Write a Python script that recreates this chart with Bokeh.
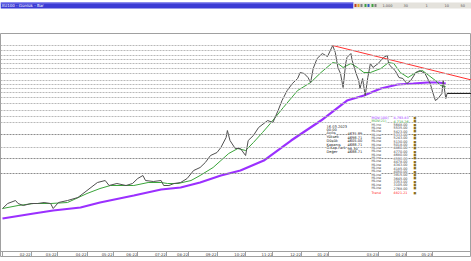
from bokeh.plotting import figure
from bokeh.models import Range1d, FixedTicker, LinearAxis, Label, BoxAnnotation, Span
from bokeh.layouts import column
from bokeh.embed import file_html
from bokeh.resources import INLINE

# ---------------- data ----------------
price_x = [0, 4, 10, 12, 16, 22, 27, 32, 37, 39, 43, 50, 58, 65, 73, 79, 82, 88, 95, 100,
           104, 108, 110, 116, 122, 124, 128, 132, 137, 142, 147, 152, 156, 160, 165, 168,
           172, 173, 175, 179, 183, 187, 189, 193, 197, 204, 208, 212, 215, 219, 223, 227,
           229, 232, 235, 237, 239, 242, 246, 250, 254, 256, 258, 260, 262, 264, 265, 268,
           269, 272, 274, 275, 277, 279, 281, 283, 285, 289, 293, 296, 297, 298, 302, 305,
           308, 311, 314, 318, 321, 325, 329, 331, 333, 335, 338, 339, 341, 342]
price_y = [1980, 2093, 2160, 2093, 2048, 2093, 2093, 2115, 2093, 1980, 2115, 2160, 2228, 2385,
           2565, 2610, 2498, 2543, 2498, 2543, 2655, 2723, 2610, 2588, 2610, 2498, 2498, 2543,
           2565, 2655, 2835, 2903, 3015, 3173, 3240, 3353, 3578, 3735, 3510, 3330, 3330, 3173,
           3510, 3623, 3803, 3960, 3915, 4185, 4410, 4635, 4793, 4905, 5040, 5018, 4928, 4815,
           5130, 5355, 5468, 5400, 5648, 5490, 5153, 5018, 4703, 5243, 5378, 5468, 5310, 5018,
           4860, 4680, 4905, 4523, 4928, 5243, 5153, 5243, 5378, 5423, 5243, 5198, 5085, 4928,
           4905, 4793, 4860, 5040, 5085, 5018, 4793, 4590, 4410, 4455, 4568, 4860, 4455, 4568]

ma21_x = [0, 12, 24, 37, 50, 65, 75, 83, 101, 112, 122, 127, 135, 145, 152, 162, 168, 174,
          181, 187, 193, 200, 206, 216, 227, 237, 245, 254, 258, 262, 268, 273, 278, 283,
          291, 297, 301, 306, 312, 318, 323, 328, 333, 337, 341]
ma21_y = [1980, 2048, 2093, 2093, 2115, 2318, 2430, 2498, 2498, 2565, 2565, 2543, 2543, 2610,
          2723, 2903, 3060, 3218, 3330, 3285, 3465, 3690, 3893, 4253, 4635, 4815, 5040, 5265,
          5243, 5153, 5243, 5153, 5040, 5040, 5130, 5265, 5243, 5040, 4928, 5040, 5085, 4973,
          4860, 4748, 4718]

ma100_x = [0, 24, 39, 60, 75, 101, 122, 137, 152, 168, 183, 201, 222, 245, 255, 265, 278,
           291, 304, 316, 327, 335, 341]
ma100_y = [1755, 1868, 1935, 2003, 2115, 2273, 2408, 2453, 2565, 2723, 2835, 3060, 3510, 3960,
           4185, 4410, 4523, 4680, 4770, 4793, 4815, 4815, 4793]

trend_x = [254, 295]
trend_y = [5648, 5350]

hline_values = [5648.00, 5535.00, 5423.00, 5333.00, 5243.00, 5130.00, 5018.00, 4860.00,
                4770.00, 4680.00, 4590.00, 4478.00, 4343.00, 4185.00, 4050.00, 3915.00,
                3645.00, 3353.00, 3105.00, 2768.00]

month_starts = [0, 22, 42, 65, 85, 104, 126, 143, 165, 187, 208, 230, 251, 289, 311, 331]
month_labels = ["01-22", "02-22", "03-22", "04-22", "05-22", "06-22", "07-22", "08-22",
                "09-22", "10-22", "11-22", "12-22", "01-23", "03-23", "04-23", "05-23"]

info_labels = ["16.03.2023", "00:00", "Açılış", "Yüksek", "Düşük", "Kapanış", "O.Kap.Fark", "Değer"]
info_values = ["", "", "4635.89", "4698.71", "4605.00", "4688.71", "98.30", "4688.71"]

ma100_value = "4,793.83"
ma21_value = "4,718.26"
trend_value = "4821.21"

# ---------------- layout helpers ----------------
W = 471
TOP_H = 33
MAIN_H = 224
BOT_H = 4
X0, X1 = -1.54, 360.77
Y_TOP, Y_BOT = 5918.0, 878.0


def px_x(px):
    return X0 + (X1 - X0) * px / W


def py_y(py):
    return Y_TOP - (Y_TOP - Y_BOT) * (py - TOP_H) / MAIN_H


FONT = "DejaVu Sans"

# ---------------- top bar ----------------
top = figure(width=W, height=TOP_H, x_range=Range1d(0, W), y_range=Range1d(TOP_H, 0),
             output_backend="svg", toolbar_location=None, min_border=0,
             x_axis_location=None, y_axis_location=None)
top.outline_line_color = None
top.grid.visible = False
top.add_layout(BoxAnnotation(left=0, right=353, top=2, bottom=8, fill_color="#3b3bd4",
                             fill_alpha=1, line_color=None))
top.add_layout(BoxAnnotation(left=0, right=353, top=2, bottom=3, fill_color="#7f7ff0",
                             fill_alpha=1, line_color=None))
top.add_layout(BoxAnnotation(left=353, right=W, top=2, bottom=8, fill_color="#e4e2dc",
                             fill_alpha=1, line_color=None))
top.add_layout(Label(x=1, y=5, text="XU100 - Günlük - Bar", text_font=FONT,
                     text_font_size="4px", text_color="white", text_baseline="middle"))
for xi, col in zip([354, 357, 360, 364, 367, 371, 374], ["#c04020", "#e0a020", "#808080",
                                                        "#40a040", "#3060c0", "#40a040", "#808080"]):
    top.add_layout(BoxAnnotation(left=xi, right=xi + 2, top=3.5, bottom=6.5, fill_color=col,
                                 fill_alpha=1, line_color=None))
for xi, t in zip([382, 403, 425, 444, 460], ["1.000", "30", "1", "10", "50"]):
    top.add_layout(Label(x=xi, y=5, text=t, text_font=FONT, text_font_size="3.5px",
                         text_color="#555555", text_baseline="middle"))

# ---------------- main chart ----------------
p = figure(width=W, height=MAIN_H, x_range=Range1d(X0, X1), y_range=Range1d(Y_BOT, Y_TOP),
           output_backend="svg", toolbar_location=None, min_border=0,
           x_axis_location=None, y_axis_location=None)
p.outline_line_color = "#a0a0a0"
p.background_fill_color = "white"
p.border_fill_color = "white"
p.grid.visible = False

dark = {2768.00, 3105.00, 3645.00}
for v in hline_values:
    p.add_layout(Span(location=v, dimension="width",
                      line_color="#8c8c8c" if v in dark else "#b8b8b8",
                      line_width=1, line_dash="2 1"))

p.line(ma100_x, ma100_y, line_color="#9b30ff", line_width=2.2)
p.line(ma21_x, ma21_y, line_color="#3aa53a", line_width=1)
p.line(price_x, price_y, line_color="#505050", line_width=1)

slope = (trend_y[1] - trend_y[0]) / (trend_x[1] - trend_x[0])
p.line([trend_x[0], X1], [trend_y[0], trend_y[0] + slope * (X1 - trend_x[0])],
       line_color="#ff3030", line_width=1)
p.line([price_x[-1], X1], [price_y[-1], price_y[-1]], line_color="#202020", line_width=1)

# x axis band: labels axis at band top, separator axis at band bottom
label_pos = [m - 4.5 for m in month_starts[1:]]
ax = LinearAxis(ticker=FixedTicker(ticks=label_pos, minor_ticks=[]),
                fixed_location=py_y(251))
ax.major_label_overrides = {lp: lab for lp, lab in zip(label_pos, month_labels[1:])}
ax.major_tick_out = 0
ax.major_tick_in = 0
ax.minor_tick_out = 0
ax.minor_tick_in = 0
ax.axis_line_color = "#a0a0a0"
ax.major_label_text_font = FONT
ax.major_label_text_font_size = "3.8px"
ax.major_label_text_color = "#404040"
ax.major_label_standoff = 1
p.add_layout(ax, "below")

sep = LinearAxis(ticker=FixedTicker(ticks=month_starts, minor_ticks=[]),
                 fixed_location=py_y(256.5))
sep.major_label_text_font_size = "0px"
sep.major_label_text_alpha = 0
sep.major_tick_out = 0
sep.major_tick_in = 6
sep.major_tick_line_color = "#a0a0a0"
sep.minor_tick_out = 0
sep.minor_tick_in = 0
sep.axis_line_color = "#a0a0a0"
p.add_layout(sep, "below")

# info box
for k, (lab, val) in enumerate(zip(info_labels, info_values)):
    yy = py_y(125.5 + k * 3.7)
    p.add_layout(Label(x=px_x(326), y=yy, text=lab, text_font=FONT, text_font_size="3.6px",
                       text_color="#202020", text_baseline="middle",
                       background_fill_color="white"))
    if val:
        p.add_layout(Label(x=px_x(347), y=yy, text=val, text_font=FONT, text_font_size="3.6px",
                           text_color="#202020", text_baseline="middle",
                           background_fill_color="white"))

# legend list
rows = [("MOV(100)", ma100_value, "#9b30ff"), ("MOV(21)", ma21_value, "#3aa53a")]
rows += [("HLine", "%.2f" % v, "#404040") for v in hline_values]
rows += [("Trend", trend_value, "#ff2020")]
ys = [117, 120.5] + [124 + k * 3.35 for k in range(len(hline_values))] + [192.3]
for (lab, val, col), yp in zip(rows, ys):
    yy = py_y(yp)
    p.add_layout(Label(x=px_x(371), y=yy, text=lab, text_font=FONT, text_font_size="3.4px",
                       text_color=col, text_baseline="middle", background_fill_color="white"))
    p.add_layout(Label(x=px_x(393), y=yy, text=val, text_font=FONT, text_font_size="3.4px",
                       text_color=col, text_baseline="middle", background_fill_color="white"))
    p.add_layout(Label(x=px_x(413), y=yy, text="■", text_font=FONT, text_font_size="3px",
                       text_color="#8a6d1a", text_baseline="middle"))

# ---------------- bottom bar ----------------
bot = figure(width=W, height=BOT_H, x_range=Range1d(0, W), y_range=Range1d(BOT_H, 0),
             output_backend="svg", toolbar_location=None, min_border=0,
             x_axis_location=None, y_axis_location=None)
bot.outline_line_color = None
bot.grid.visible = False
bot.background_fill_color = "#6b3d0c"
bot.border_fill_color = "#6b3d0c"
bot.add_layout(BoxAnnotation(left=295, right=W, top=1, bottom=BOT_H, fill_color="#f08a10",
                             fill_alpha=1, line_color=None))
bot.add_layout(BoxAnnotation(left=0, right=W, top=0, bottom=1, fill_color="#b0b0b0",
                             fill_alpha=1, line_color=None))

layout = column(top, p, bot, spacing=0)
open("out.html", "w").write(file_html(layout, INLINE))
